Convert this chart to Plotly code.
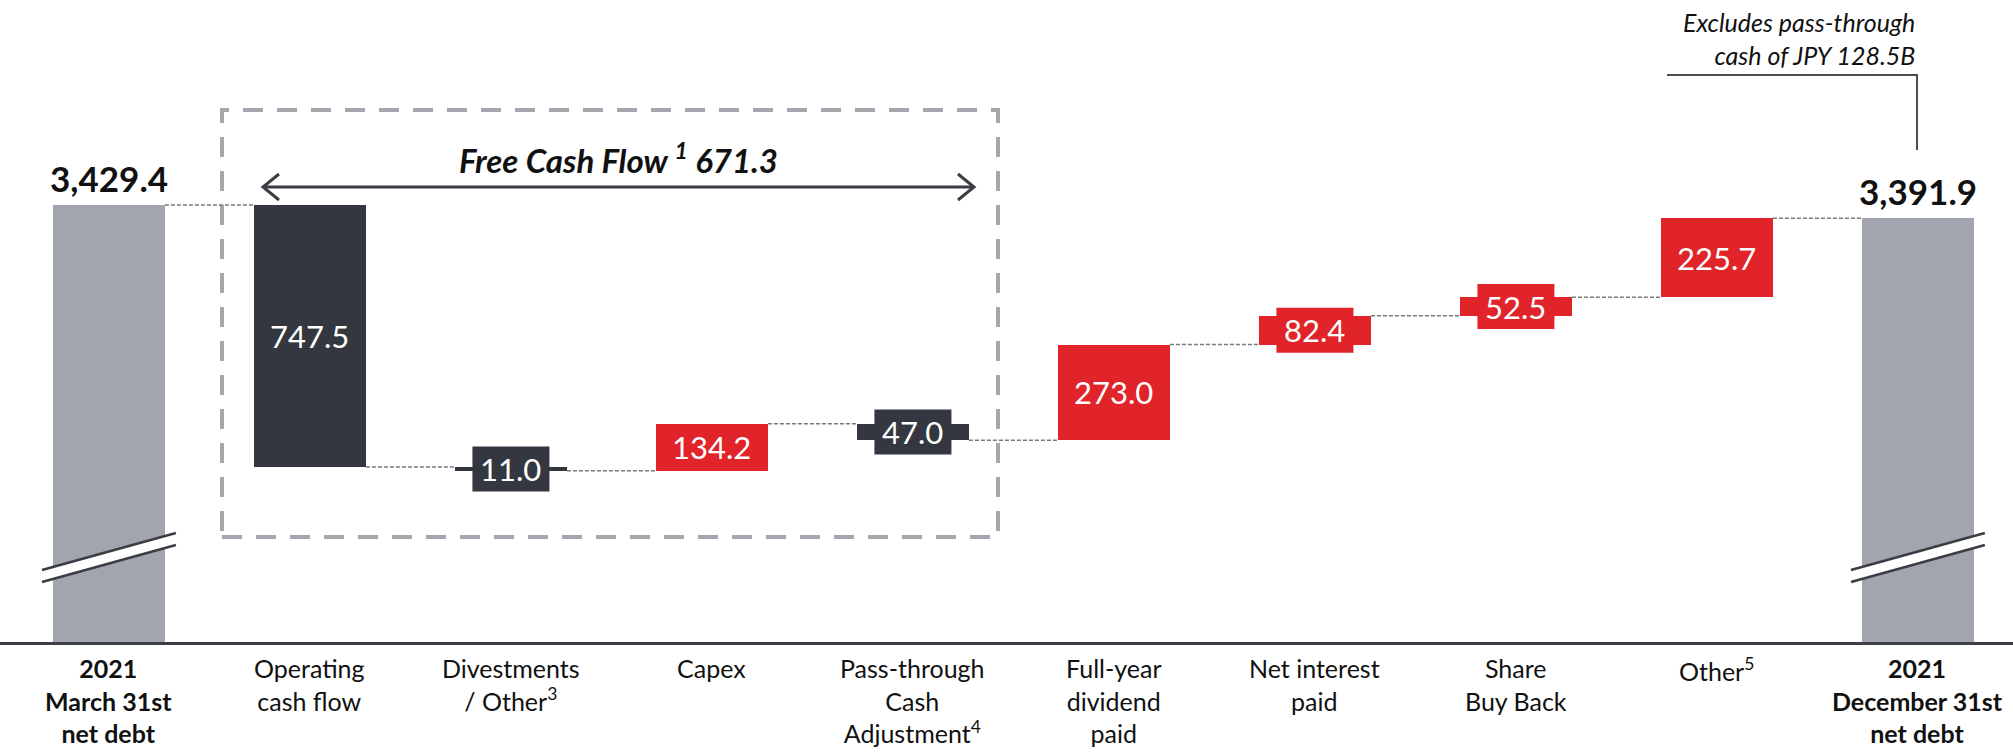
import plotly.graph_objects as go

# Net debt bridge, JPY billions
categories = [
    "<b>2021<br>March 31st<br>net debt</b>",
    "Operating<br>cash flow",
    "Divestments<br>/ Other<sup>3</sup>",
    "Capex",
    "Pass-through<br>Cash<br>Adjustment<sup>4</sup>",
    "Full-year<br>dividend<br>paid",
    "Net interest<br>paid",
    "Share<br>Buy Back",
    "Other<sup>5</sup>",
    "<b>2021<br>December 31st<br>net debt</b>",
]
opening_debt = 3429.4
closing_debt = 3391.9
changes = [-747.5, -11.0, 134.2, -47.0, 273.0, 82.4, 52.5, 225.7]
free_cash_flow = 671.3
note_lines = ["Excludes pass-through", "cash of JPY 128.5B"]

GRAY = "#a2a5ad"
DARK = "#353740"
RED = "#e1232a"
FONT = "Lato"

W, H = 2013, 753
PLOT_H = 642
BAR_W = 0.557
X0, X1 = -0.542, 9.473
Y0, Y1 = 2182.6, 4014.3

# running levels through the bridge
levels = [opening_debt]
for c in changes:
    levels.append(levels[-1] + c)

xs = list(range(len(categories)))
bases = [0]
heights = [opening_debt]
colors = [GRAY]
for i, c in enumerate(changes):
    bases.append(min(levels[i], levels[i + 1]))
    heights.append(abs(c))
    colors.append(RED if c > 0 else DARK)
bases.append(0)
heights.append(closing_debt)
colors.append(GRAY)

fig = go.Figure(go.Bar(
    x=xs, y=heights, base=bases, width=BAR_W,
    marker=dict(color=colors, line=dict(width=0)),
    hoverinfo="skip",
))

shapes = []
annotations = []

def px_x(px):
    return X0 + px * (X1 - X0) / W

def py_paper(py):
    return 1 - py / PLOT_H

# dashed connectors between consecutive bars
for i in range(len(categories) - 1):
    y = levels[i]
    shapes.append(dict(type="line", xref="x", yref="y",
                       x0=i + BAR_W / 2, x1=i + 1 - BAR_W / 2, y0=y, y1=y,
                       line=dict(color="#7a7a7a", width=1.5, dash="4px,2px")))

# value labels on the change bars, each on a tab the colour of its bar
for i, c in enumerate(changes):
    k = i + 1
    mid = (levels[i] + levels[i + 1]) / 2
    txt = f"{abs(c):.1f}"
    half_w = 38.5 if len(txt) <= 4 else 48
    shapes.append(dict(type="rect", xref="x", yref="y",
                       xsizemode="pixel", ysizemode="pixel",
                       xanchor=k, yanchor=mid,
                       x0=-half_w, x1=half_w, y0=-22.5, y1=22.5,
                       fillcolor=colors[k], line=dict(width=0)))
    annotations.append(dict(
        x=k, y=mid, xref="x", yref="y", text=txt, showarrow=False,
        font=dict(family=FONT, size=31, color="white"),
        xanchor="center", yanchor="middle",
    ))

# totals above the end bars
for k, v in [(0, opening_debt), (len(categories) - 1, closing_debt)]:
    annotations.append(dict(
        x=k, y=v, xref="x", yref="y", text=f"<b>{v:,.1f}</b>", showarrow=False,
        font=dict(family=FONT, size=35, color="#111111"),
        xanchor="center", yanchor="bottom", yshift=4,
    ))

# axis-break marks on the end bars
for k in (0, len(categories) - 1):
    xl, xr = k - 0.333, k + 0.333
    ul, ur = py_paper(570), py_paper(533)
    ll, lr = py_paper(582), py_paper(545)
    shapes.append(dict(type="path", xref="x", yref="paper",
                       path=f"M {xl},{ul} L {xr},{ur} L {xr},{lr} L {xl},{ll} Z",
                       fillcolor="white", line=dict(width=0)))
    for (ya, yb) in ((ul, ur), (ll, lr)):
        shapes.append(dict(type="line", xref="x", yref="paper",
                           x0=xl, x1=xr, y0=ya, y1=yb,
                           line=dict(color="#3b3d45", width=2.5)))

# free cash flow box and arrow
shapes.append(dict(type="rect", xref="x", yref="paper",
                   x0=px_x(222), x1=px_x(998), y0=py_paper(537), y1=py_paper(110),
                   line=dict(color="#a5a7ae", width=4, dash="20px,14px"),
                   fillcolor="rgba(0,0,0,0)", layer="below"))
ay = py_paper(187)
ax0, ax1 = px_x(263), px_x(974)
dx = 16 * (X1 - X0) / W
dy = 13 / PLOT_H
shapes.append(dict(type="line", xref="x", yref="paper", x0=ax0, x1=ax1, y0=ay, y1=ay,
                   line=dict(color="#3b3d45", width=3)))
for tip, sgn in ((ax0, 1), (ax1, -1)):
    shapes.append(dict(type="path", xref="x", yref="paper",
                       path=f"M {tip + sgn * dx},{ay + dy} L {tip},{ay} L {tip + sgn * dx},{ay - dy}",
                       line=dict(color="#3b3d45", width=3)))
annotations.append(dict(
    x=px_x(618), y=py_paper(158), xref="x", yref="paper",
    text=f"<b><i>Free Cash Flow <sup>1</sup> {free_cash_flow:.1f}</i></b>",
    showarrow=False, font=dict(family=FONT, size=33, color="#111111"),
    xanchor="center", yanchor="middle",
))

# note with bracket over the closing bar
annotations.append(dict(
    x=1917 / W, y=py_paper(5), xref="paper", yref="paper",
    text="<i>" + "<br>".join(note_lines) + "</i>", align="right",
    showarrow=False, font=dict(family=FONT, size=25, color="#111111"),
    xanchor="right", yanchor="top",
))
shapes.append(dict(type="path", xref="paper", yref="paper",
                   path=f"M {1667 / W},{py_paper(75)} L {1917 / W},{py_paper(75)} L {1917 / W},{py_paper(150)}",
                   line=dict(color="#4b4d55", width=2)))

# category labels under the axis
for k, cat in enumerate(categories):
    annotations.append(dict(
        x=k, y=py_paper(651), xref="x", yref="paper", text=cat,
        showarrow=False, font=dict(family=FONT, size=25, color="#111111"),
        xanchor="center", yanchor="top", align="center",
    ))

fig.update_layout(
    width=W, height=H,
    margin=dict(l=0, r=0, t=0, b=H - PLOT_H, pad=0),
    paper_bgcolor="white", plot_bgcolor="white",
    showlegend=False,
    xaxis=dict(range=[X0, X1], showgrid=False, zeroline=False, showticklabels=False,
               ticks="", showline=True, linecolor="#3d3f47", linewidth=2.5, fixedrange=True),
    yaxis=dict(range=[Y0, Y1], visible=False, fixedrange=True),
    shapes=shapes, annotations=annotations,
    bargap=0,
)

fig.write_html("out.html")
